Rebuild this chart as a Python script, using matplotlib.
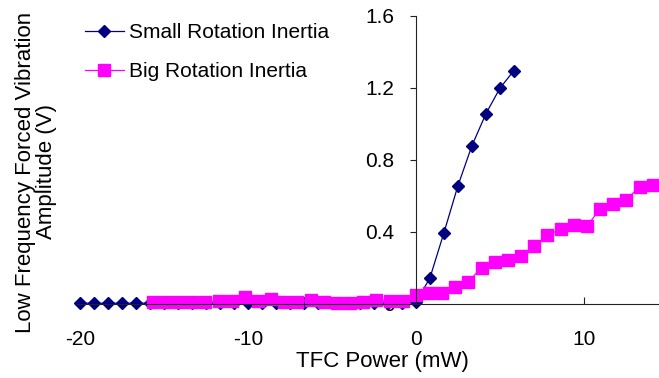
import matplotlib
matplotlib.use("Agg")
import matplotlib.pyplot as plt

# TFC power (mW) and amplitude (V)
small_x = [-20.0, -19.17, -18.33, -17.5, -16.67, -15.83, -15.0, -14.17, -13.33, -12.5,
           -11.67, -10.83, -10.0, -9.17, -8.33, -7.5, -6.67, -5.83, -5.0, -4.17,
           -3.33, -2.5, -1.67, -0.83, 0.0, 0.83, 1.67, 2.5, 3.33, 4.17, 5.0, 5.83]
small_y = [0.004, 0.004, 0.004, 0.004, 0.004, 0.004, 0.004, 0.004, 0.004, 0.004,
           0.004, 0.004, 0.004, 0.004, 0.004, 0.004, 0.004, 0.004, 0.004, 0.004,
           0.004, 0.004, 0.004, 0.004, 0.01, 0.143, 0.396, 0.656, 0.878, 1.057, 1.198, 1.296]

big_x = [-15.66, -14.88, -14.09, -13.31, -12.53, -11.74, -10.96, -10.18, -9.40, -8.61,
         -7.83, -7.05, -6.26, -5.48, -4.70, -3.91, -3.13, -2.35, -1.57, -0.78,
         0.0, 0.78, 1.57, 2.35, 3.13, 3.91, 4.70, 5.48, 6.26, 7.05,
         7.83, 8.61, 9.40, 10.18, 10.96, 11.74, 12.53, 13.31, 14.09]
big_y = [0.01, 0.01, 0.01, 0.01, 0.01, 0.018, 0.018, 0.04, 0.018, 0.028,
         0.013, 0.013, 0.022, 0.013, 0.004, 0.004, 0.008, 0.022, 0.018, 0.018,
         0.05, 0.059, 0.063, 0.093, 0.124, 0.202, 0.235, 0.244, 0.267, 0.322,
         0.381, 0.415, 0.437, 0.433, 0.526, 0.554, 0.578, 0.652, 0.661]

x_ticks = [-20, -10, 0, 10]
y_ticks = [0, 0.4, 0.8, 1.2, 1.6]
y_ticklabels = ["0", "0.4", "0.8", "1.2", "1.6"]

plt.rcParams["font.family"] = ["Liberation Sans", "DejaVu Sans"]
plt.rcParams["axes.unicode_minus"] = False  # plain hyphen, as in the original

fig = plt.figure(figsize=(6.59, 3.78), dpi=100)
ax = fig.add_axes([0.1162, 0.196, 0.882, 0.762])

ax.plot(small_x, small_y, color="#000080", lw=0.9, marker="D", ms=6.5,
        mec="#000080", mfc="#000080", label="Small Rotation Inertia", clip_on=False)
ax.plot(big_x, big_y, color="#FF00FF", lw=0.9, marker="s", ms=8,
        mec="#FF00FF", mfc="#FF00FF", label="Big Rotation Inertia", clip_on=False)

ax.set_xlim(-20.2, 14.4)
ax.set_ylim(0, 1.6)

# axes cross at the origin, like the Excel original
ax.spines["left"].set_position(("data", 0))
ax.spines["bottom"].set_position(("data", 0))
ax.spines["right"].set_visible(False)
ax.spines["top"].set_visible(False)
for s in ("left", "bottom"):
    ax.spines[s].set_linewidth(0.8)
    ax.spines[s].set_color("#222222")

ax.set_xticks(x_ticks)
ax.set_yticks(y_ticks)
ax.set_yticklabels(y_ticklabels)
ax.tick_params(axis="x", direction="in", length=5, width=0.8, pad=19, labelsize=15, color="#222222")
ax.tick_params(axis="y", direction="out", length=4.5, width=0.8, pad=11, labelsize=15, color="#222222")

ax.set_xlabel("TFC Power (mW)", fontsize=16)
ax.xaxis.set_label_coords(0.527, -0.201)
ax.xaxis.label.set_va("center")
ax.set_ylabel("Low Frequency Forced Vibration\nAmplitude (V)", fontsize=16, linespacing=1.05)
ax.yaxis.set_label_coords(-0.0698, 0.458)
ax.yaxis.label.set_va("center")

fig.legend(loc="upper left", bbox_to_anchor=(0.129, 0.938), frameon=False, fontsize=15,
           numpoints=1, handlelength=1.85, handletextpad=0.25, labelspacing=0.95,
           borderpad=0, borderaxespad=0)

fig.savefig("out.png", dpi=100)
plt.close(fig)
